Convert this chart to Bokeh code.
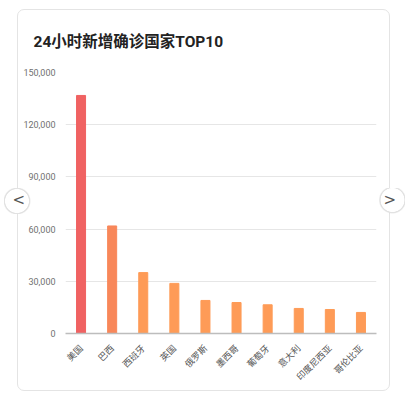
import math
from bokeh.plotting import figure
from bokeh.models import (Range1d, FactorRange, FixedTicker, NumeralTickFormatter,
                          ColumnDataSource, InlineStyleSheet)
from bokeh.embed import file_html
from bokeh.resources import INLINE

title_text = "24小时新增确诊国家TOP10"
countries = ["美国", "巴西", "西班牙", "英国", "俄罗斯", "墨西哥", "葡萄牙", "意大利", "印度尼西亚", "哥伦比亚"]
new_cases = [136800, 61800, 35000, 28800, 19000, 17800, 16500, 14400, 13800, 12100]
bar_colors = ["#F06262", "#F8875A", "#FE9B57", "#FE9B57", "#FE9B57", "#FE9B57",
              "#FE9B57", "#FE9B57", "#FE9B57", "#FE9B57"]
y_ticks = [0, 30000, 60000, 90000, 120000, 150000]

W, H = 410, 400
FL, FR, FT, FB = 65, 34, 72, 67   # frame borders

css = InlineStyleSheet(css="""
:host { position: relative; }
:host::before {
  content: ""; position: absolute; left: 17px; top: 9px; width: 373px; height: 382px;
  border: 1px solid #E4E4E4; border-radius: 7px; box-sizing: border-box;
  pointer-events: none; z-index: 10;
}
:host::after {
  content: "< >"; position: absolute; left: 3.5px; top: 188px; width: 401.5px; height: 26px;
  box-sizing: border-box; padding: 0 9px; line-height: 24px;
  font-family: "DejaVu Sans"; font-size: 15px; color: #555555;
  text-align: justify; text-align-last: justify; white-space: nowrap;
  background:
    radial-gradient(circle at 13px 13px, #FFFFFF 0, #FFFFFF 11.6px, #E2E2E2 12.2px, #E2E2E2 12.8px, rgba(0,0,0,0.05) 13.3px, rgba(0,0,0,0) 14px),
    radial-gradient(circle at 388.5px 12px, #FFFFFF 0, #FFFFFF 11.6px, #E2E2E2 12.2px, #E2E2E2 12.8px, rgba(0,0,0,0.05) 13.3px, rgba(0,0,0,0) 14px);
  pointer-events: none; z-index: 11;
}
""")

p = figure(width=W, height=H, x_range=FactorRange(*countries), y_range=Range1d(0, 150000),
           output_backend="svg", toolbar_location=None, stylesheets=[css],
           min_border_left=FL, min_border_right=FR, min_border_top=FT, min_border_bottom=FB)
p.outline_line_color = None
p.background_fill_color = "white"
p.border_fill_color = "white"

p.title.text = title_text
p.title.align = "left"
p.title.offset = -32
p.title.standoff = 43
p.title.text_font = "Roboto, Noto Sans CJK SC"
p.title.text_font_style = "bold"
p.title.text_font_size = "15.5px"
p.title.text_color = "#222222"

src = ColumnDataSource(dict(country=countries, cases=new_cases, color=bar_colors))
p.vbar(x="country", top="cases", width=0.29, color="color", source=src)

p.yaxis.ticker = FixedTicker(ticks=y_ticks)
p.yaxis.formatter = NumeralTickFormatter(format="0,0")
p.yaxis.axis_line_color = None
p.yaxis.major_tick_line_color = None
p.yaxis.minor_tick_line_color = None
p.yaxis.major_label_text_font = "Roboto"
p.yaxis.major_label_text_font_size = "9px"
p.yaxis.major_label_text_color = "#707070"
p.yaxis.major_label_standoff = 4

p.xaxis.axis_line_color = "#BDBDBD"
p.xaxis.axis_line_width = 1.5
p.xaxis.major_tick_line_color = None
p.xaxis.minor_tick_line_color = None
p.xaxis.major_label_orientation = math.pi / 4
p.xaxis.major_label_text_font = "Noto Sans CJK SC"
p.xaxis.major_label_text_font_size = "9px"
p.xaxis.major_label_text_color = "#555555"
p.xaxis.major_label_standoff = 7

p.xgrid.grid_line_color = None
p.ygrid.grid_line_color = "#E6E6E6"
p.ygrid.grid_line_width = 1

open("out.html", "w").write(file_html(p, INLINE))
